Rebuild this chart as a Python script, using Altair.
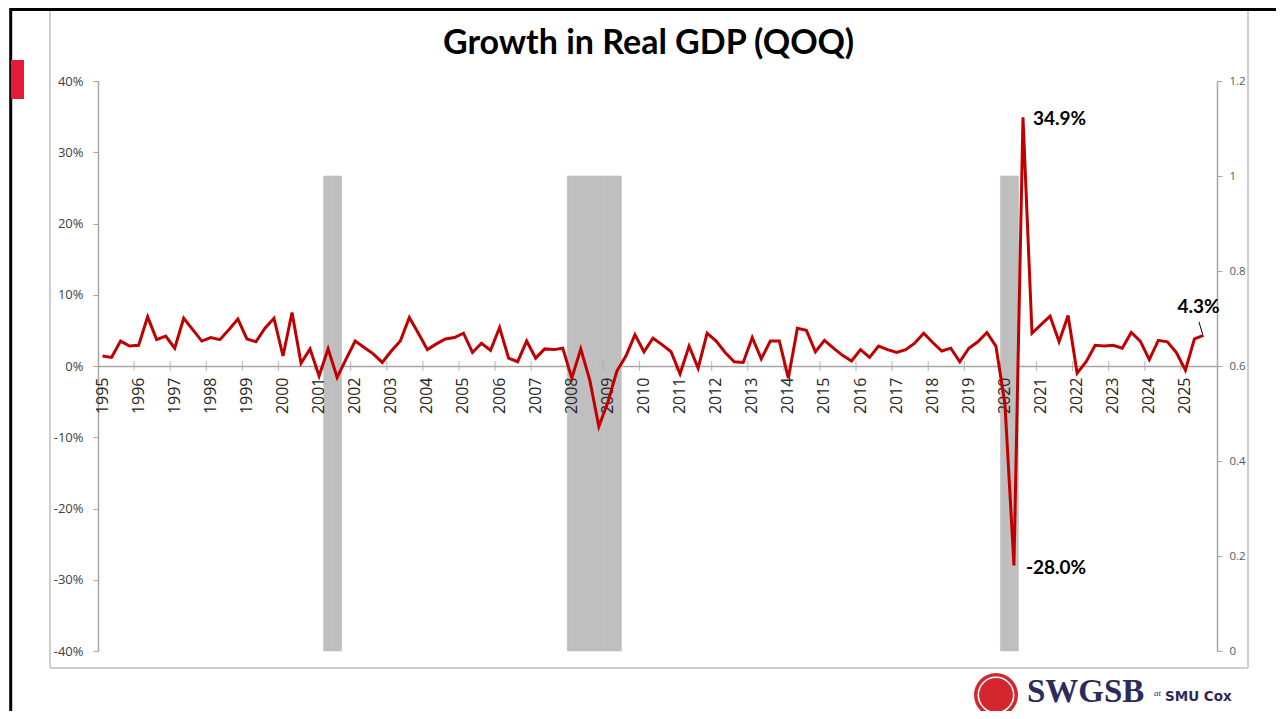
import altair as alt
import pandas as pd

# ---------------- data ----------------
title_text = "Growth in Real GDP (QOQ)"
years = list(range(1995, 2026))
quarters = [f"{y}Q{q}" for y in years for q in range(1, 5)][:123]
n_slots = 124  # category slots on the axis (2025Q4 slot is empty)

growth = [
    1.4, 1.2, 3.5, 2.8,      # 1995
    2.9, 6.9, 3.7, 4.2,      # 1996
    2.5, 6.7, 5.1, 3.5,      # 1997
    4.0, 3.7, 5.1, 6.6,      # 1998
    3.8, 3.4, 5.3, 6.7,      # 1999
    1.4, 7.5, 0.4, 2.4,      # 2000
    -1.4, 2.4, -1.6, 1.0,    # 2001
    3.5, 2.6, 1.7, 0.5,      # 2002
    2.1, 3.5, 6.8, 4.6,      # 2003
    2.3, 3.1, 3.8, 4.0,      # 2004
    4.6, 1.9, 3.2, 2.2,      # 2005
    5.4, 1.1, 0.6, 3.5,      # 2006
    1.1, 2.4, 2.3, 2.5,      # 2007
    -1.7, 2.4, -2.0, -8.5,   # 2008
    -5.1, -0.7, 1.4, 4.4,    # 2009
    2.0, 3.9, 3.0, 2.0,      # 2010
    -1.1, 2.8, -0.3, 4.6,    # 2011
    3.5, 1.9, 0.6, 0.5,      # 2012
    4.0, 1.0, 3.5, 3.5,      # 2013
    -1.7, 5.3, 5.0, 2.0,     # 2014
    3.6, 2.5, 1.5, 0.7,      # 2015
    2.3, 1.2, 2.8, 2.3,      # 2016
    1.9, 2.3, 3.2, 4.6,      # 2017
    3.3, 2.1, 2.5, 0.6,      # 2018
    2.5, 3.4, 4.7, 2.8,      # 2019
    -5.3, -28.0, 34.9, 4.6,  # 2020
    5.8, 7.0, 3.4, 7.1,      # 2021
    -1.0, 0.6, 2.9, 2.8,     # 2022
    2.9, 2.5, 4.7, 3.5,      # 2023
    0.9, 3.6, 3.4, 1.9,      # 2024
    -0.6, 3.8, 4.3,          # 2025
]

recession_quarters = ["2001Q2", "2001Q3",
                      "2008Q1", "2008Q2", "2008Q3", "2008Q4", "2009Q1", "2009Q2",
                      "2020Q1", "2020Q2"]
recession_value = 1

year_labels = [str(y) for y in years]
left_ticks = [-40, -30, -20, -10, 0, 10, 20, 30, 40]
right_ticks = [0, 0.2, 0.4, 0.6, 0.8, 1.0, 1.2]

annot_quarters = ["2020Q3", "2020Q2", "2025Q3"]
annot_labels = ["34.9%", "-28.0%", "4.3%"]

# ---------------- tables ----------------
df = pd.DataFrame({"quarter": quarters, "idx": list(range(len(quarters))), "growth": growth})
rec = pd.DataFrame({"quarter": recession_quarters,
                    "idx": [quarters.index(q) for q in recession_quarters],
                    "v": [recession_value] * len(recession_quarters)})
rec["start"] = rec["idx"] - 0.5
rec["end"] = rec["idx"] + 0.5
year_first_idx = [quarters.index(f"{y}Q1") for y in years]
years_df = pd.DataFrame({"idx": year_first_idx, "label": year_labels, "zero": 0})
ticks_df = pd.DataFrame({"b": [i - 0.5 for i in year_first_idx[1:]], "zero": 0})
ann = df[df["quarter"].isin(annot_quarters)].copy()
ann["label"] = [annot_labels[annot_quarters.index(q)] for q in ann["quarter"]]
one = pd.DataFrame({"a": [0]})

# ---------------- scales / axes ----------------
AX = "#a6a6a6"
xscale = alt.Scale(domain=[-0.5, n_slots - 0.5], nice=False, zero=False)
yleft = alt.Scale(domain=[-40, 40], nice=False, zero=False)
yright = alt.Scale(domain=[0, 1.2], nice=False)

xaxis = alt.Axis(values=year_first_idx, labels=False, ticks=False, offset=-285,
                 domainColor=AX, domainWidth=1.5, title=None, grid=False)
leftaxis = alt.Axis(values=left_ticks, labelExpr="datum.value + '%'", orient="left",
                    tickSize=5, tickColor=AX, domainColor=AX, domainWidth=1.5, labelPadding=10,
                    labelFont="Open Sans", labelFontSize=13, labelColor="#404040",
                    grid=False, title=None)
rightaxis = alt.Axis(values=right_ticks, labelExpr="toString(round(datum.value*10)/10)",
                     orient="right", tickSize=5, tickColor=AX, domainColor=AX, domainWidth=1.5,
                     labelPadding=7, labelFont="Open Sans", labelFontSize=11.5,
                     labelColor="#595959", grid=False, title=None)

# ---------------- marks ----------------
bars = alt.Chart(rec).mark_rect(color="#bfbfbf", stroke="#bfbfbf", strokeWidth=0.6).encode(
    x=alt.X("start:Q", scale=xscale, axis=xaxis),
    x2="end:Q",
    y=alt.Y("v:Q", scale=yright, axis=rightaxis),
    y2=alt.datum(0),
)

year_text = alt.Chart(years_df).mark_text(
    font="Open Sans", fontSize=16, color="#262626", angle=270, align="right",
    baseline="middle", dx=-11.5,
).encode(
    x=alt.X("idx:Q", scale=xscale, axis=xaxis),
    y=alt.Y("zero:Q", scale=yleft, axis=leftaxis),
    text="label:N",
)

line = alt.Chart(df).mark_line(color="#c00000", strokeWidth=3).encode(
    x=alt.X("idx:Q", scale=xscale, axis=xaxis),
    y=alt.Y("growth:Q", scale=yleft, axis=leftaxis),
)

yr_ticks = alt.Chart(ticks_df).mark_tick(orient="vertical", size=10, thickness=1.2,
                                         color=AX).encode(
    x=alt.X("b:Q", scale=xscale, axis=xaxis),
    y=alt.Y("zero:Q", scale=yleft, axis=leftaxis),
)

def ann_text(q, **kw):
    return alt.Chart(ann[ann["quarter"] == q]).mark_text(
        font="Lato", fontWeight="bold", fontSize=19, color="black", baseline="middle", **kw
    ).encode(
        x=alt.X("idx:Q", scale=xscale, axis=xaxis),
        y=alt.Y("growth:Q", scale=yleft, axis=leftaxis),
        text="label:N",
    )

t1 = ann_text("2020Q3", align="left", dx=10, dy=2)
t2 = ann_text("2020Q2", align="left", dx=12, dy=2)
t3 = ann_text("2025Q3", align="center", dx=-5, dy=-28)

leader = alt.Chart(ann[ann["quarter"] == "2025Q3"]).transform_calculate(
    x1="datum.idx - 0.1", x2="datum.idx - 0.5",
    y1="datum.growth + 0.2", y2="datum.growth + 1.9",
).mark_rule(color="black", strokeWidth=1).encode(
    x=alt.X("x1:Q", scale=xscale, axis=xaxis), x2="x2:Q",
    y=alt.Y("y1:Q", scale=yleft, axis=leftaxis), y2="y2:Q",
)

# ---------------- slide decorations ----------------
def rule(**enc):
    kw = {k: v for k, v in enc.items() if k in ("color", "strokeWidth")}
    e = {k: alt.value(v) for k, v in enc.items() if k not in ("color", "strokeWidth")}
    return alt.Chart(one).mark_rule(**kw).encode(**e)

decor = [
    rule(x=-48, y=-72, y2=587, color="#bfbfbf", strokeWidth=1.5),
    rule(x=1150, y=-72, y2=587, color="#bfbfbf", strokeWidth=1.5),
    rule(x=-48, x2=1150, y=587, color="#bfbfbf", strokeWidth=1.5),
    rule(x=-88, x2=1190, y=-71.5, color="black", strokeWidth=3),
    rule(x=-87.3, y=-73, y2=640, color="black", strokeWidth=3),
    alt.Chart(one).mark_rect(color="#e31b36").encode(
        x=alt.value(-87), x2=alt.value(-74), y=alt.value(-21), y2=alt.value(18)),
]

title = alt.Chart(one).mark_text(text=title_text, font="Lato", fontWeight="bold", fontSize=34,
                                 color="black", align="center", baseline="alphabetic").encode(
    x=alt.value(550.5), y=alt.value(-27.5))

logo = [
    alt.Chart(one).mark_point(shape="circle", filled=True, size=1936, color="#d3262e",
                              opacity=1).encode(x=alt.value(898), y=alt.value(614)),
    alt.Chart(one).mark_point(shape="circle", filled=False, size=1250, color="white",
                              strokeWidth=1.5, opacity=1).encode(x=alt.value(898), y=alt.value(614)),
    alt.Chart(one).mark_text(text="SWGSB", font="Liberation Serif", fontWeight="bold",
                             fontSize=33, color="#2d2b5c", align="left",
                             baseline="alphabetic").encode(x=alt.value(929), y=alt.value(621)),
    alt.Chart(one).mark_text(text="at", font="Liberation Serif", fontStyle="italic",
                             fontSize=9, color="#2d2b5c", align="left",
                             baseline="alphabetic").encode(x=alt.value(1056), y=alt.value(615)),
    alt.Chart(one).mark_text(text="SMU Cox", font="DejaVu Sans", fontWeight="bold",
                             fontSize=13.5, color="#2d2b5c", align="left",
                             baseline="alphabetic").encode(x=alt.value(1067), y=alt.value(620)),
]

inner = alt.layer(year_text, yr_ticks, line, leader, t1, t2, t3)
chart = alt.layer(*decor, title, *logo, bars, inner).resolve_scale(y="independent").properties(
    width=1119, height=570,
    autosize=alt.AutoSizeParams(type="none"),
    padding={"left": 90, "top": 73, "right": 59, "bottom": 60},
    background="white",
).configure_view(stroke=None)

chart.save("out.html", embed_options={"renderer": "svg", "actions": False})
